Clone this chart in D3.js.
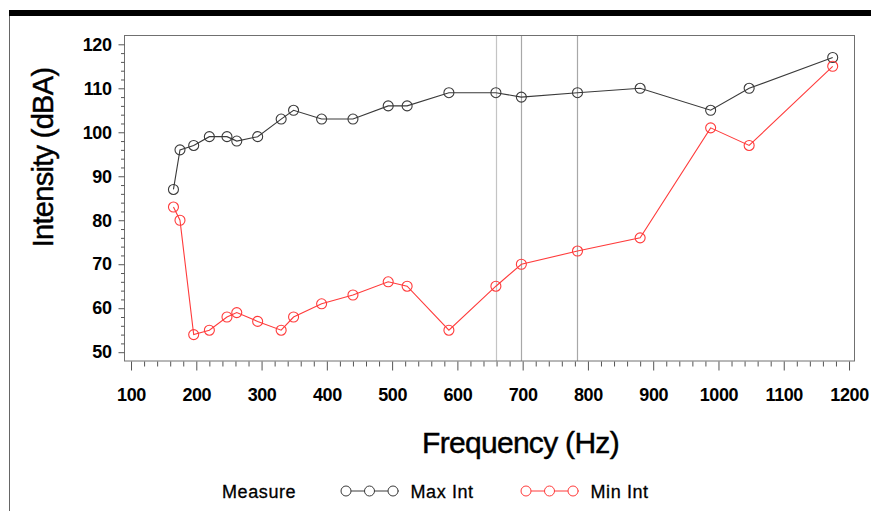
<!DOCTYPE html>
<html>
<head>
<meta charset="utf-8">
<script src="https://cdn.jsdelivr.net/npm/d3@7"></script>
<style>
  html, body { margin: 0; padding: 0; background: #fff; }
  svg { display: block; }
  text { font-family: "Liberation Sans", Arial, Helvetica, sans-serif; }
</style>
</head>
<body>
<script>
// ---- data ----
const frequencies = [165, 175, 196, 220, 247, 262, 294, 330, 349, 392, 440, 494, 523, 587, 659, 698, 784, 880, 988, 1047, 1175];
const maxInt = [87, 96, 97, 99, 99, 98, 99, 103, 105, 103, 103, 106, 106, 109, 109, 108, 109, 110, 105, 110, 117];
const minInt = [83, 80, 54, 55, 58, 59, 57, 55, 58, 61, 63, 66, 65, 55, 65, 70, 73, 76, 101, 97, 115];
const refLines = [659, 698, 784];
const seriesNames = ["Max Int", "Min Int"];
const xTickValues = [100, 200, 300, 400, 500, 600, 700, 800, 900, 1000, 1100, 1200];
const yTickValues = [50, 60, 70, 80, 90, 100, 110, 120];
const xTitle = "Frequency (Hz)";
const yTitle = "Intensity (dBA)";
const legendTitle = "Measure";

// ---- layout ----
const W = 871, H = 511;
const plot = { left: 124.5, right: 854.5, top: 35.5, bottom: 361 };
const colors = { "Max Int": "#3a3a3a", "Min Int": "#ff3b3b" };

const svg = d3.select("body").append("svg").attr("width", W).attr("height", H);

// page decorations
svg.append("rect").attr("x", 9).attr("y", 10).attr("width", W - 9).attr("height", 6).attr("fill", "#000");
svg.append("line").attr("x1", 9.5).attr("x2", 9.5).attr("y1", 16).attr("y2", H).attr("stroke", "#666").attr("stroke-width", 1);

const x = d3.scaleLinear().domain([90, 1208.4]).range([plot.left, plot.right]);
const y = d3.scaleLinear().domain([48, 122]).range([plot.bottom, plot.top]);

// reference lines
svg.append("g").selectAll("line").data(refLines).join("line")
  .attr("x1", d => Math.round(x(d)) + 0.5).attr("x2", d => Math.round(x(d)) + 0.5)
  .attr("y1", plot.top).attr("y2", plot.bottom)
  .attr("stroke", (d, i) => i === 0 ? "#c4c4c4" : "#a8a8a8").attr("stroke-width", 1.2);

// frame
svg.append("rect").attr("x", plot.left).attr("y", plot.top)
  .attr("width", plot.right - plot.left).attr("height", plot.bottom - plot.top)
  .attr("fill", "none").attr("stroke", "#707070").attr("stroke-width", 1);

const styleTickText = g => g.selectAll("text").attr("font-size", 18).attr("fill", "#000")
  .attr("font-family", "'Liberation Sans', Arial, sans-serif").attr("font-weight", "bold")
  .attr("letter-spacing", "-0.4");

// x axis minor ticks
const xMinor = d3.range(100, 1201, 20).filter(v => v % 100 !== 0);
svg.append("g").attr("transform", `translate(0,${plot.bottom + 0.5})`)
  .call(d3.axisBottom(x).tickValues(xMinor).tickSize(5).tickFormat(""))
  .call(g => g.select(".domain").remove())
  .call(g => g.selectAll("line").attr("stroke", "#555"));
// x axis major ticks
svg.append("g").attr("transform", `translate(0,${plot.bottom + 0.5})`)
  .call(d3.axisBottom(x).tickValues(xTickValues).tickSize(9).tickPadding(17.5).tickFormat(d3.format("d")))
  .call(g => g.select(".domain").remove())
  .call(g => g.selectAll("line").attr("stroke", "#555"))
  .call(styleTickText);

// y axis minor ticks
const yMinor = d3.range(50, 121, 2).filter(v => v % 10 !== 0);
svg.append("g").attr("transform", `translate(${plot.left},0)`)
  .call(d3.axisLeft(y).tickValues(yMinor).tickSize(3.5).tickFormat(""))
  .call(g => g.select(".domain").remove())
  .call(g => g.selectAll("line").attr("stroke", "#555"));
// y axis major
svg.append("g").attr("transform", `translate(${plot.left},0)`)
  .call(d3.axisLeft(y).tickValues(yTickValues).tickSize(6).tickPadding(7).tickFormat(d3.format("d")))
  .call(g => g.select(".domain").remove())
  .call(g => g.selectAll("line").attr("stroke", "#555"))
  .call(styleTickText);

// titles
svg.append("text").attr("x", 520.5).attr("y", 453).attr("text-anchor", "middle")
  .attr("font-size", 30).attr("fill", "#000").attr("stroke", "#000").attr("stroke-width", 0.45)
  .attr("letter-spacing", "-0.7").text(xTitle);
svg.append("text").attr("transform", "translate(53,157.5) rotate(-90)").attr("text-anchor", "middle")
  .attr("font-size", 29).attr("fill", "#000").attr("stroke", "#000").attr("stroke-width", 0.45)
  .attr("letter-spacing", "-0.7").text(yTitle);

// series
const series = [
  { name: seriesNames[0], values: maxInt },
  { name: seriesNames[1], values: minInt }
];
const line = d3.line().x(d => x(d[0])).y(d => y(d[1]));
const sg = svg.append("g").selectAll("g").data(series).join("g");
sg.append("path")
  .attr("d", s => line(frequencies.map((f, i) => [f, s.values[i]])))
  .attr("fill", "none").attr("stroke", s => colors[s.name]).attr("stroke-width", 1.1);
sg.selectAll("circle").data(s => frequencies.map((f, i) => ({ f, v: s.values[i], name: s.name }))).join("circle")
  .attr("cx", d => x(d.f)).attr("cy", d => y(d.v)).attr("r", 5)
  .attr("fill", "none").attr("stroke", d => colors[d.name]).attr("stroke-width", 1.1);

// legend
const legY = 491;
svg.append("text").attr("x", 222).attr("y", 498).attr("font-size", 18).attr("fill", "#000")
  .attr("stroke", "#000").attr("stroke-width", 0.3)
  .attr("letter-spacing", "0.6").text(legendTitle);
const legendItems = [
  { name: seriesNames[0], x0: 341, tx: 410.5 },
  { name: seriesNames[1], x0: 521, tx: 590.5 }
];
const lg = svg.append("g").selectAll("g").data(legendItems).join("g");
lg.append("line").attr("x1", d => d.x0).attr("x2", d => d.x0 + 58).attr("y1", legY).attr("y2", legY)
  .attr("stroke", d => colors[d.name]).attr("stroke-width", 1);
lg.selectAll("circle").data(d => [5, 28.5, 52].map(o => ({ cx: d.x0 + o, name: d.name }))).join("circle")
  .attr("cx", d => d.cx).attr("cy", legY).attr("r", 5)
  .attr("fill", "#fff").attr("stroke", d => colors[d.name]).attr("stroke-width", 1);
lg.append("text").attr("x", d => d.tx).attr("y", 498).attr("font-size", 18).attr("fill", "#000")
  .attr("stroke", "#000").attr("stroke-width", 0.3)
  .attr("letter-spacing", "0.6").text(d => d.name);
</script>
</body>
</html>
